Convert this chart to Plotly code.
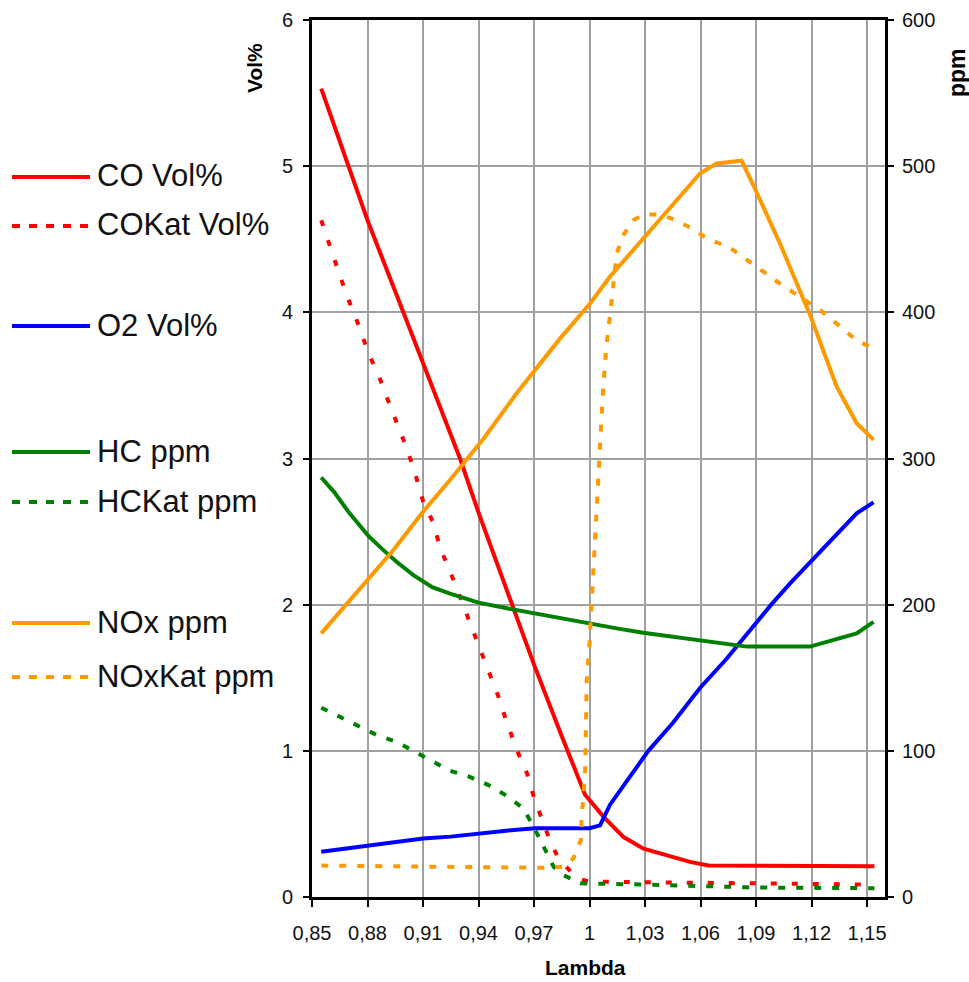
import plotly.graph_objects as go

# ---------------- data ----------------
lam_co = [0.855, 0.88, 0.90, 0.93, 0.94, 0.9585, 0.97, 0.985, 0.9976,
          1.0075, 1.0184, 1.0292, 1.0435, 1.0543, 1.0643, 1.154]
co_vol = [5.53, 4.63, 3.98, 3.0, 2.63, 2.0, 1.59, 1.10, 0.70,
          0.55, 0.41, 0.33, 0.28, 0.24, 0.215, 0.21]

lam_cokat = [0.855, 0.8606, 0.8651, 0.8696, 0.8756, 0.8805, 0.886, 0.8904, 0.8961, 0.9012,
             0.9057, 0.9102, 0.9156, 0.9192, 0.9255, 0.931, 0.9354, 0.94, 0.9459, 0.9508,
             0.9554, 0.9608, 0.9662, 0.9701, 0.9748, 0.9791, 0.9832, 0.9931, 1.0, 1.05, 1.154]
cokat_vol = [4.63, 4.41, 4.25, 4.09, 3.90, 3.72, 3.57, 3.42, 3.24, 3.07,
             2.90, 2.70, 2.56, 2.39, 2.20, 2.02, 1.87, 1.71, 1.535, 1.37,
             1.19, 1.005, 0.846, 0.675, 0.515, 0.37, 0.265, 0.128, 0.105, 0.10, 0.085]

lam_o2 = [0.855, 0.865, 0.88, 0.894, 0.91, 0.925, 0.94, 0.955, 0.9705, 1.0, 1.0057,
          1.011, 1.0183, 1.0318, 1.045, 1.0597, 1.0741, 1.0832, 1.0982, 1.1084,
          1.1192, 1.1336, 1.1444, 1.1535]
o2_vol = [0.31, 0.326, 0.349, 0.378, 0.40, 0.413, 0.436, 0.454, 0.47, 0.47, 0.49,
          0.63, 0.76, 1.0, 1.19, 1.43, 1.63, 1.77, 2.0, 2.146,
          2.29, 2.477, 2.625, 2.70]

lam_hc = [0.855, 0.862, 0.870, 0.8805, 0.888, 0.896, 0.905, 0.915, 0.9246, 0.94, 0.9554,
          0.9705, 0.986, 1.0003, 1.0147, 1.029, 1.0443, 1.0597, 1.0759, 1.085, 1.1192,
          1.13, 1.1444, 1.1535]
hc_ppm = [287, 277, 263, 247, 238, 229, 220, 212, 207.5, 201.4, 197.5,
          194, 190, 186.8, 183.8, 180.8, 178.1, 175.8, 173.1, 171.3, 171.3,
          175.4, 180.3, 188.3]

lam_hckat = [0.855, 0.8651, 0.875, 0.885, 0.8954, 0.9057, 0.9153, 0.9246, 0.935, 0.9454,
             0.9554, 0.9641, 0.9698, 0.9752, 0.9806, 0.9859, 0.995, 1.03, 1.09, 1.154]
hckat_ppm = [129.5, 123.3, 117, 110.8, 106.3, 99.4, 93, 86.4, 82.3, 76.6,
             69.1, 60.7, 48.1, 34.4, 20.7, 15, 9.4, 8.5, 6.5, 6]

lam_nox = [0.855, 0.876, 0.894, 0.91, 0.9246, 0.943, 0.9606, 0.984, 1.0003, 1.011, 1.029,
           1.0435, 1.0597, 1.0687, 1.0822, 1.0885, 1.1029, 1.1192, 1.1336, 1.1444, 1.1535]
nox_ppm = [180.4, 211, 237.4, 263.6, 285.3, 314, 344.6, 382, 406, 424.3, 450.6,
           472.2, 495, 501.9, 503.7, 487.1, 447.2, 398.2, 349.1, 324.1, 312.7]

lam_noxkat = [0.855, 0.9752, 0.9859, 0.9913, 0.9953, 0.9958, 0.9976, 0.9981, 0.9985, 0.9999,
              1.0011, 1.002, 1.003, 1.0039, 1.0053, 1.0071, 1.0089, 1.0107, 1.012, 1.0147,
              1.0183, 1.0238, 1.0292, 1.0382, 1.0454, 1.0543, 1.0643, 1.0751, 1.085, 1.094,
              1.1039, 1.1138, 1.1246, 1.1345, 1.1441, 1.1549]
noxkat_ppm = [21.5, 20, 20.7, 26.4, 39, 55, 84.6, 116.5, 148.5, 171.3,
              201, 221.4, 244.2, 273.9, 301.2, 342.3, 374.2, 392.4, 408.4, 440.3,
              452.9, 463.2, 467, 467, 463.6, 458.1, 449.9, 444.9, 436.2, 427.8,
              418.7, 410.7, 401.6, 391.3, 381.1, 374.2]

x_tick_vals = [0.85, 0.88, 0.91, 0.94, 0.97, 1.0, 1.03, 1.06, 1.09, 1.12, 1.15]
x_tick_text = ["0,85", "0,88", "0,91", "0,94", "0,97", "1", "1,03", "1,06", "1,09", "1,12", "1,15"]

legend_names = ["CO Vol%", "COKat Vol%", "O2 Vol%", "HC ppm", "HCKat ppm", "NOx ppm", "NOxKat ppm"]
legend_colors = ["#FF0000", "#FF0000", "#0000FF", "#008000", "#008000", "#FF9900", "#FF9900"]
legend_dashes = ["solid", "8px,9px", "solid", "solid", "8px,9px", "solid", "8px,9px"]
legend_rows_px = [177, 226, 326, 452, 502, 623, 677]

# ---------------- figure ----------------
W, H = 969, 982
ML, MR, MT, MB = 312, 84, 20, 85
PW, PH = W - ML - MR, H - MT - MB


def px_x(p):
    return (p - ML) / PW


def px_y(p):
    return (H - MB - p) / PH


FONT = "Liberation Sans, Arial, sans-serif"
fig = go.Figure()


def add(x, y, name, color, dash, axis):
    fig.add_trace(go.Scatter(x=x, y=y, name=name, mode="lines", yaxis=axis,
                             line=dict(color=color, width=4, dash=dash),
                             showlegend=False))


add(lam_co, co_vol, "CO Vol%", "#FF0000", "solid", "y")
add(lam_cokat, cokat_vol, "COKat Vol%", "#FF0000", "6px,15px", "y")
add(lam_o2, o2_vol, "O2 Vol%", "#0000FF", "solid", "y")
add(lam_hc, hc_ppm, "HC ppm", "#008000", "solid", "y2")
add(lam_hckat, hckat_ppm, "HCKat ppm", "#008000", "7px,11px", "y2")
add(lam_nox, nox_ppm, "NOx ppm", "#FF9900", "solid", "y2")
add(lam_noxkat, noxkat_ppm, "NOxKat ppm", "#FF9900", "7px,11px", "y2")

shapes = []
annotations = []
for name, col, dash, row in zip(legend_names, legend_colors, legend_dashes, legend_rows_px):
    shapes.append(dict(type="line", xref="paper", yref="paper",
                       x0=px_x(12), x1=px_x(90), y0=px_y(row), y1=px_y(row),
                       line=dict(color=col, width=4, dash=dash)))
    annotations.append(dict(text=name, xref="paper", yref="paper", x=px_x(95), y=px_y(row - 1),
                            xanchor="left", yanchor="middle", showarrow=False,
                            font=dict(family=FONT, size=31, color="#111111")))

annotations += [
    dict(text="<b>Vol%</b>", xref="paper", yref="paper", x=px_x(255), y=px_y(68),
         xanchor="center", yanchor="middle", textangle=-90, showarrow=False,
         font=dict(family=FONT, size=21, color="black")),
    dict(text="<b>ppm</b>", xref="paper", yref="paper", x=px_x(957), y=px_y(73),
         xanchor="center", yanchor="middle", textangle=-90, showarrow=False,
         font=dict(family=FONT, size=23, color="black")),
    dict(text="<b>Lambda</b>", xref="paper", yref="paper", x=px_x(585), y=px_y(967),
         xanchor="center", yanchor="middle", showarrow=False,
         font=dict(family=FONT, size=21, color="black")),
]

GRID = "#a0a0a0"
fig.update_layout(
    width=W, height=H, template="none",
    margin=dict(l=ML, r=MR, t=MT, b=MB, pad=0),
    paper_bgcolor="white", plot_bgcolor="white",
    font=dict(family=FONT, size=20, color="black"),
    showlegend=False,
    xaxis=dict(range=[0.85, 1.1597], tickvals=x_tick_vals, ticktext=x_tick_text,
               showgrid=True, gridcolor=GRID, gridwidth=2, zeroline=False,
               showline=True, linecolor="black", linewidth=3, mirror=True,
               ticks="outside", ticklen=7, tickwidth=2, tickcolor="black",
               ticklabelstandoff=9, automargin=False,
               tickfont=dict(family=FONT, size=20, color="#111111")),
    yaxis=dict(range=[0, 6], tick0=0, dtick=1,
               showgrid=True, gridcolor=GRID, gridwidth=2, zeroline=False,
               showline=True, linecolor="black", linewidth=3, mirror=True,
               ticks="outside", ticklen=6, tickwidth=2, tickcolor="black",
               ticklabelstandoff=6, automargin=False,
               tickfont=dict(family=FONT, size=20, color="#111111")),
    yaxis2=dict(range=[0, 600], tick0=0, dtick=100, overlaying="y", side="right",
                showgrid=False, zeroline=False,
                showline=True, linecolor="black", linewidth=3,
                ticks="outside", ticklen=6, tickwidth=2, tickcolor="black",
                ticklabelstandoff=4, automargin=False,
                tickfont=dict(family=FONT, size=20, color="#111111")),
    shapes=shapes,
    annotations=annotations,
)

fig.write_html("out.html", config={"displayModeBar": False},
               post_script="document.body.style.margin='0px';document.body.style.overflow='hidden';")
